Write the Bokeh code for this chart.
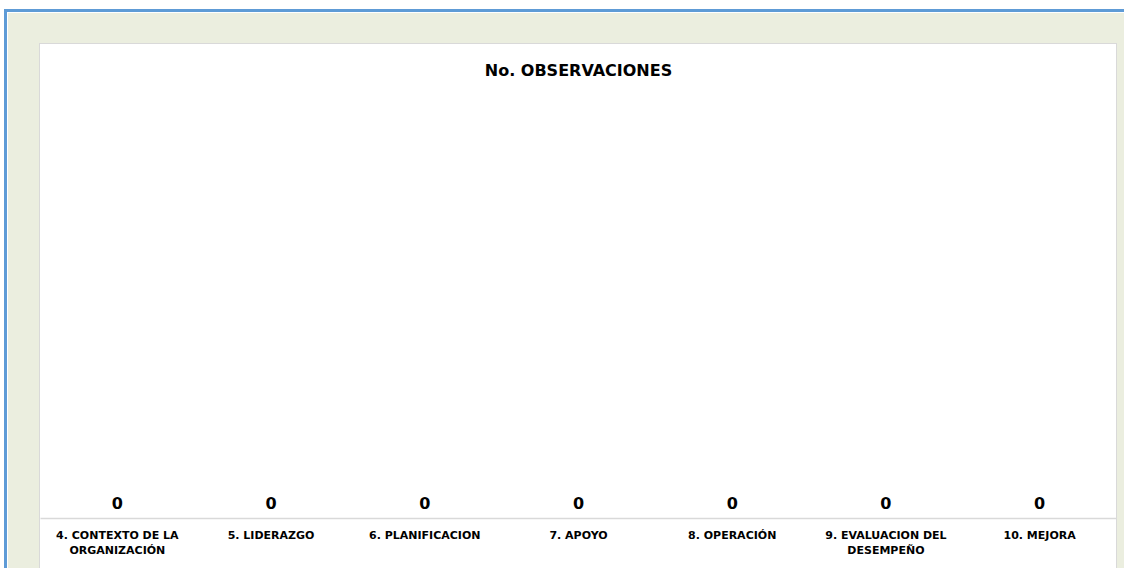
from bokeh.plotting import figure
from bokeh.layouts import column
from bokeh.models import ColumnDataSource, LabelSet, Range1d
from bokeh.core.properties import value
from bokeh.embed import file_html
from bokeh.resources import INLINE

# Observations per clause
categories = [
    "4. CONTEXTO DE LA\nORGANIZACIÓN",
    "5. LIDERAZGO",
    "6. PLANIFICACION",
    "7. APOYO",
    "8. OPERACIÓN",
    "9. EVALUACION DEL\nDESEMPEÑO",
    "10. MEJORA",
]
observaciones = [0, 0, 0, 0, 0, 0, 0]
chart_title = "No. OBSERVACIONES"

FONT = "DejaVu Sans"

source = ColumnDataSource(dict(
    cat=categories,
    val=observaciones,
    txt=[str(v) for v in observaciones],
))

# white chart panel (fill comes from the element itself, so there is no seam
# between the frame and the border area)
p = figure(
    width=1076, height=524,
    x_range=categories,
    y_range=Range1d(0, 10),
    output_backend="svg",
    toolbar_location=None,
    min_border_left=0, min_border_right=0,
    min_border_top=46, min_border_bottom=50,
    title=chart_title,
    margin=(32, 8, 0, 33),
    styles={"outline": "1px solid #D9D9D9", "background-color": "#FFFFFF"},
)
p.border_fill_alpha = 0
p.background_fill_alpha = 0
p.outline_line_color = None

p.vbar(x="cat", top="val", width=0.6, source=source,
       fill_color="#4F81BD", line_color=None)

p.add_layout(LabelSet(x="cat", y="val", text="txt", source=source,
                      text_align="center", text_baseline="bottom",
                      y_offset=10, text_font=value(FONT), text_font_style="bold",
                      text_font_size="16px", text_color="black"))

p.title.align = "center"
p.title.text_font = FONT
p.title.text_font_size = "16px"
p.title.text_font_style = "bold"
p.title.text_color = "black"
p.title.standoff = 21

p.yaxis.visible = False
p.xgrid.grid_line_color = None
p.ygrid.grid_line_color = None

ax = p.xaxis[0]
ax.axis_line_color = "#D9D9D9"
ax.axis_line_width = 1.5
ax.major_tick_line_color = None
ax.major_tick_out = 0
ax.major_tick_in = 0
ax.minor_tick_line_color = None
ax.major_label_standoff = 10
ax.major_label_text_font = FONT
ax.major_label_text_font_style = "bold"
ax.major_label_text_font_size = "11px"
ax.major_label_text_color = "black"

# beige chart area with blue edge
page = column(
    p,
    margin=(9, 0, 0, 4),
    styles={
        "background-color": "#EBEEDF",
        "border-left": "3px solid #5E9BD6",
        "border-top": "3px solid #5E9BD6",
        "box-shadow": "inset 1px 1px 0 #FFFFFF",
    },
)

open("out.html", "w").write(file_html(page, INLINE))
